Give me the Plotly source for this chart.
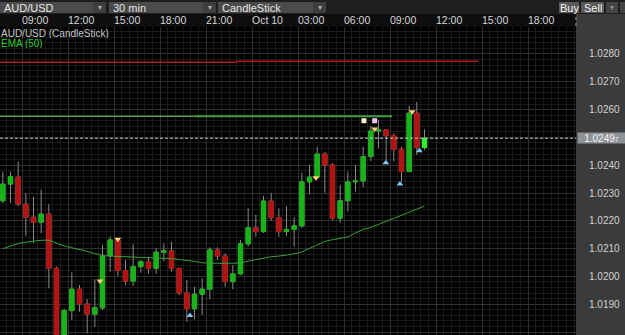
import plotly.graph_objects as go
import pandas as pd

# ---------------- data ----------------
bar_times = pd.date_range("2012-10-09 07:45", periods=56, freq="30min")

opens = [1.02272, 1.02332, 1.02357, 1.02260, 1.02213, 1.02195, 1.02224, 1.02029, 1.01740, 1.01877,
         1.01954, 1.01901, 1.01864, 1.01887, 1.02074, 1.02131, 1.02021, 1.01983, 1.02035, 1.02053,
         1.02029, 1.02087, 1.02092, 1.02029, 1.01941, 1.01884, 1.01936, 1.01954, 1.02095, 1.02073,
         1.01981, 1.02009, 1.02117, 1.02175, 1.02161, 1.02271, 1.02211, 1.02161, 1.02169, 1.02182,
         1.02340, 1.02357, 1.02440, 1.02401, 1.02209, 1.02272, 1.02340, 1.02343, 1.02431, 1.02523,
         1.02527, 1.02506, 1.02457, 1.02377, 1.02587, 1.02464]
highs = [1.02377, 1.02377, 1.02413, 1.02299, 1.02286, 1.02313, 1.02260, 1.02035, 1.01885, 1.02015,
         1.01969, 1.01918, 1.01990, 1.02113, 1.02143, 1.02135, 1.02059, 1.02115, 1.02059, 1.02071,
         1.02103, 1.02119, 1.02125, 1.02031, 1.01987, 1.01963, 1.01993, 1.02105, 1.02105, 1.02083,
         1.02041, 1.02131, 1.02245, 1.02221, 1.02290, 1.02301, 1.02245, 1.02253, 1.02213, 1.02373,
         1.02401, 1.02467, 1.02447, 1.02407, 1.02329, 1.02377, 1.02401, 1.02467, 1.02541, 1.02563,
         1.02529, 1.02515, 1.02467, 1.02613, 1.02628, 1.02529]
lows = [1.02264, 1.02264, 1.02253, 1.02145, 1.02121, 1.02155, 1.01957, 1.01700, 1.01720, 1.01843,
        1.01873, 1.01795, 1.01819, 1.01879, 1.02017, 1.02001, 1.01969, 1.01965, 1.02013, 1.02009,
        1.02009, 1.02055, 1.02017, 1.01933, 1.01837, 1.01846, 1.01861, 1.01918, 1.02059, 1.01963,
        1.01954, 1.02005, 1.02107, 1.02143, 1.02156, 1.02200, 1.02143, 1.02145, 1.02107, 1.02174,
        1.02295, 1.02350, 1.02301, 1.02203, 1.02193, 1.02233, 1.02305, 1.02321, 1.02415, 1.02461,
        1.02419, 1.02413, 1.02341, 1.02375, 1.02437, 1.02454]
closes = [1.02332, 1.02359, 1.02260, 1.02213, 1.02195, 1.02224, 1.02029, 1.01740, 1.01877, 1.01954,
          1.01901, 1.01864, 1.01887, 1.02073, 1.02131, 1.02021, 1.01983, 1.02035, 1.02053, 1.02029,
          1.02087, 1.02092, 1.02029, 1.01941, 1.01884, 1.01936, 1.01954, 1.02095, 1.02073, 1.01981,
          1.02009, 1.02117, 1.02175, 1.02161, 1.02271, 1.02211, 1.02161, 1.02169, 1.02182, 1.02340,
          1.02357, 1.02440, 1.02401, 1.02209, 1.02272, 1.02340, 1.02343, 1.02431, 1.02523, 1.02527,
          1.02506, 1.02457, 1.02377, 1.02587, 1.02464, 1.02497]
ema50 = [1.02100, 1.02109, 1.02118, 1.02123, 1.02127, 1.02130, 1.02130, 1.02119, 1.02110, 1.02103,
         1.02097, 1.02090, 1.02082, 1.02075, 1.02073, 1.02072, 1.02071, 1.02069, 1.02069, 1.02069,
         1.02068, 1.02066, 1.02064, 1.02061, 1.02058, 1.02054, 1.02049, 1.02047, 1.02047, 1.02047,
         1.02047, 1.02048, 1.02055, 1.02061, 1.02066, 1.02071, 1.02073, 1.02077, 1.02081, 1.02088,
         1.02100, 1.02113, 1.02126, 1.02132, 1.02136, 1.02142, 1.02156, 1.02169, 1.02176, 1.02187,
         1.02198, 1.02208, 1.02219, 1.02232, 1.02242, 1.02253]

red_level_x = ["2012-10-09 07:00", "2012-10-09 23:00", "2012-10-10 14:45"]
red_level_y = [1.02770, 1.02774, 1.02774]
green_level_thin_x = ["2012-10-09 07:00", "2012-10-09 20:15"]
green_level_thick_x = ["2012-10-09 20:15", "2012-10-10 09:08"]
green_level_y = [1.02576, 1.02576]

sell_sig_x = ["2012-10-09 14:05", "2012-10-09 15:15", "2012-10-10 04:10", "2012-10-10 08:00", "2012-10-10 10:27"]
sell_sig_y = [1.01983, 1.02134, 1.02355, 1.02530, 1.02592]
buy_sig_x = ["2012-10-09 19:57", "2012-10-10 08:44", "2012-10-10 09:39", "2012-10-10 10:55"]
buy_sig_y = [1.01859, 1.02409, 1.02332, 1.02452]
sq_x = ["2012-10-10 07:18", "2012-10-10 08:00"]
sq_y = [1.02560, 1.02560]
sq_colors = ["#f3ecbe", "#eec6f4"]

x_tick_vals = pd.date_range("2012-10-09 09:00", periods=12, freq="3h")
x_tick_text = ["09:00", "12:00", "15:00", "18:00", "21:00", "Oct 10",
               "03:00", "06:00", "09:00", "12:00", "15:00", "18:00"]
y_tick_vals = [1.0180, 1.0190, 1.0200, 1.0210, 1.0220, 1.0230, 1.0240, 1.0250,
               1.0260, 1.0270, 1.0280, 1.0290]
# 1.0250 is hidden behind the last-price box in the reference
y_tick_text = ["1.0180", "1.0190", "1.0200", "1.0210", "1.0220", "1.0230", "1.0240", "",
               "1.0260", "1.0270", "1.0280", "1.0290"]

x_range = ["2012-10-09 07:33:55", "2012-10-10 21:07:50"]
y_range = [1.017892, 1.028971]

# ---------------- geometry helpers ----------------
W, H = 625, 335
ML, MR, MT, MB = 0, 49, 27, 0
PW = W - ML - MR
PH = H - MT - MB


def px(x):
    return (x - ML) / PW


def py(y):
    return (H - MB - y) / PH


GREEN = "#17b317"
RED = "#b51212"
WICK = "#8a8a8a"
PANEL = "#3b3b3b"

fig = go.Figure()

# wicks (gray)
fig.add_trace(go.Candlestick(
    x=bar_times, open=opens, high=highs, low=lows, close=closes,
    increasing=dict(line=dict(color=WICK, width=1), fillcolor=WICK),
    decreasing=dict(line=dict(color=WICK, width=1), fillcolor=WICK),
    hoverinfo="skip"))

# bodies
body_hi = [max(o, c) for o, c in zip(opens, closes)]
body_lo = [min(o, c) for o, c in zip(opens, closes)]
fig.add_trace(go.Candlestick(
    x=bar_times[:-1], open=opens[:-1], high=body_hi[:-1], low=body_lo[:-1], close=closes[:-1],
    increasing=dict(line=dict(color=GREEN, width=1), fillcolor=GREEN),
    decreasing=dict(line=dict(color=RED, width=1), fillcolor=RED),
    hoverinfo="skip"))
fig.add_trace(go.Candlestick(
    x=bar_times[-1:], open=opens[-1:], high=body_hi[-1:], low=body_lo[-1:], close=closes[-1:],
    increasing=dict(line=dict(color="#2cf02c", width=1), fillcolor="#2cf02c"),
    decreasing=dict(line=dict(color=RED, width=1), fillcolor=RED),
    hoverinfo="skip"))

# EMA
fig.add_trace(go.Scatter(x=bar_times, y=ema50, mode="lines",
                         line=dict(color="#3a9f3a", width=1), hoverinfo="skip"))

# levels
fig.add_trace(go.Scatter(x=red_level_x, y=red_level_y, mode="lines", line_shape="hv",
                         line=dict(color="#a81c1c", width=1.5), hoverinfo="skip"))
fig.add_trace(go.Scatter(x=green_level_thin_x, y=green_level_y, mode="lines",
                         line=dict(color="#6fdc6f", width=1), hoverinfo="skip"))
fig.add_trace(go.Scatter(x=green_level_thick_x, y=green_level_y, mode="lines",
                         line=dict(color="#3f9f3f", width=2.2), hoverinfo="skip"))

# signals
fig.add_trace(go.Scatter(x=sell_sig_x, y=sell_sig_y, mode="markers",
                         marker=dict(symbol="triangle-down", size=6, color="#ffcf7a",
                                     line=dict(width=0)), hoverinfo="skip"))
fig.add_trace(go.Scatter(x=buy_sig_x, y=buy_sig_y, mode="markers",
                         marker=dict(symbol="triangle-up", size=6, color="#7ec8f2",
                                     line=dict(width=0)), hoverinfo="skip"))
fig.add_trace(go.Scatter(x=sq_x, y=sq_y, mode="markers",
                         marker=dict(symbol="square", size=5, color=sq_colors,
                                     line=dict(width=0)), hoverinfo="skip"))

last_price = closes[-1]

shapes = [
    # right price panel
    dict(type="rect", xref="paper", yref="paper", x0=px(576), x1=px(W), y0=py(H), y1=py(14),
         fillcolor=PANEL, line=dict(width=0), layer="below"),
    # toolbar
    dict(type="rect", xref="paper", yref="paper", x0=px(0), x1=px(W), y0=py(14), y1=py(0),
         fillcolor="#1e1e1e", line=dict(width=0), layer="below"),
    # cover for clipped top price label
    dict(type="rect", xref="paper", yref="paper", x0=px(576), x1=px(W), y0=py(27), y1=py(14),
         fillcolor=PANEL, line=dict(width=0), layer="above"),
    dict(type="line", xref="paper", yref="paper", x0=px(576), x1=px(576), y0=py(26), y1=py(15),
         line=dict(color="#9a9a9a", width=1, dash="dot"), layer="above"),
    # last price dashed line
    dict(type="line", xref="paper", yref="y", x0=0, x1=1, y0=last_price, y1=last_price,
         line=dict(color="#c4c4c4", width=1, dash="3px,2px"), layer="above"),
]

# dropdown boxes
for x0, x1 in [(0, 106), (109, 216), (218, 326)]:
    shapes.append(dict(type="rect", xref="paper", yref="paper", x0=px(x0), x1=px(x1),
                       y0=py(13), y1=py(2), fillcolor="#4a4a4a", line=dict(width=0), layer="below"))
    shapes.append(dict(type="rect", xref="paper", yref="paper", x0=px(x1 - 13), x1=px(x1),
                       y0=py(13), y1=py(2), fillcolor="#3e3e3e", line=dict(width=0), layer="below"))
# buttons
for x0, x1, col in [(559, 579, "#595959"), (581, 604, "#595959"), (606, 618, "#444444"), (620, 625, "#444444")]:
    shapes.append(dict(type="rect", xref="paper", yref="paper", x0=px(x0), x1=px(x1),
                       y0=py(13), y1=py(2), fillcolor=col, line=dict(width=0), layer="above"))

annotations = []
for x, txt in [(2, "AUD/USD"), (111, "30 min"), (220, "CandleStick")]:
    annotations.append(dict(xref="paper", yref="paper", x=px(x), y=py(7.5), text=txt,
                            showarrow=False, xanchor="left", yanchor="middle",
                            font=dict(size=11, color="#e6e6e6")))
for x1 in [106, 216, 326]:
    annotations.append(dict(xref="paper", yref="paper", x=px(x1 - 6.5), y=py(7.5), text="▾",
                            showarrow=False, xanchor="center", yanchor="middle",
                            font=dict(size=8, color="#b0b0b0")))
for xc, txt in [(569, "Buy"), (592.5, "Sell")]:
    annotations.append(dict(xref="paper", yref="paper", x=px(xc), y=py(7.5), text=txt,
                            showarrow=False, xanchor="center", yanchor="middle",
                            font=dict(size=11, color="#f2f2f2")))
annotations.append(dict(xref="paper", yref="paper", x=px(612), y=py(7.5), text="▾",
                        showarrow=False, xanchor="center", yanchor="middle",
                        font=dict(size=8, color="#8a8a8a")))

# legend texts
annotations.append(dict(xref="paper", yref="paper", x=px(0), y=py(32.5), text="AUD/USD (CandleStick)",
                        showarrow=False, xanchor="left", yanchor="middle", height=10, borderpad=0,
                        font=dict(size=10, color="#c6c6c6")))
annotations.append(dict(xref="paper", yref="paper", x=px(0), y=py(42.5), text="EMA (50)",
                        showarrow=False, xanchor="left", yanchor="middle", height=10, borderpad=0,
                        font=dict(size=10, color="#2fcf2f")))

# last price box
annotations.append(dict(xref="paper", yref="y", x=px(576.5), y=last_price,
                        text="1.0249<span style='font-size:7px'>7</span>",
                        showarrow=False, xanchor="left", yanchor="middle",
                        width=47, height=10, align="center", bgcolor="#8e9398", borderpad=0,
                        font=dict(size=10, color="#f4f4f4")))

fig.update_layout(
    width=W, height=H,
    margin=dict(l=ML, r=MR, t=MT, b=MB, pad=0),
    paper_bgcolor="#0e0e0e", plot_bgcolor="#000000",
    showlegend=False, boxgap=0.2, hovermode=False,
    font=dict(family="Liberation Sans, Arial, sans-serif", color="#d0d0d0", size=10),
    shapes=shapes, annotations=annotations,
    xaxis=dict(type="date", range=x_range, side="top", tickmode="array",
               tickvals=x_tick_vals, ticktext=x_tick_text, ticklabelposition="outside right",
               showgrid=True, gridcolor="#303030", gridwidth=1,
               minor=dict(dtick=1800000, tick0="2012-10-09 09:00", showgrid=True, gridcolor="#1a1a1a"),
               zeroline=False, showline=False, ticks="",
               tickfont=dict(size=10.5, color="#d6d6d6"),
               rangeslider=dict(visible=False), fixedrange=True),
    yaxis=dict(side="right", range=y_range, tickmode="array", tickvals=y_tick_vals,
               ticktext=y_tick_text, ticks="outside", ticklen=10, tickcolor=PANEL,
               showgrid=True, gridcolor="#303030", gridwidth=1,
               minor=dict(dtick=0.0002, tick0=1.018, showgrid=True, gridcolor="#1a1a1a"),
               zeroline=False, showline=False,
               tickfont=dict(size=10, color="#d2d2d2"), fixedrange=True),
)

fig.write_html("out.html")
